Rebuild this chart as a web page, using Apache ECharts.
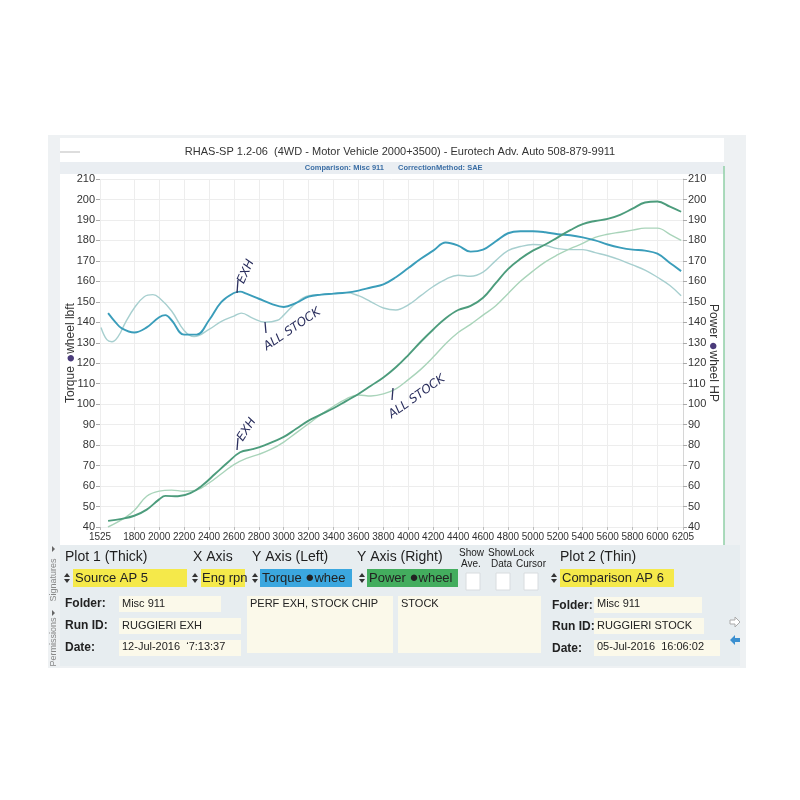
<!DOCTYPE html>
<html><head><meta charset="utf-8">
<script src="https://cdn.jsdelivr.net/npm/echarts@6/dist/echarts.min.js"></script>
<style>html,body{margin:0;padding:0;background:#fff}#c{width:800px;height:800px}</style>
</head><body><div id="c"></div><script>
// ---- data ----
const xTicks = [1525,1800,2000,2200,2400,2600,2800,3000,3200,3400,3600,3800,4000,4200,4400,4600,4800,5000,5200,5400,5600,5800,6000,6205];
const yTicksMin = 40, yTicksMax = 210, yStep = 10;

const rpmTqThick = [1590,1650,1700,1800,1900,2000,2050,2100,2200,2300,2400,2500,2600,2650,2700,2800,2900,3000,3100,3200,3300,3400,3500,3600,3700,3800,3900,4000,4100,4200,4300,4400,4500,4600,4700,4800,4900,5000,5100,5200,5300,5400,5500,5600,5700,5800,5900,6000,6100,6190];
const tqThick = [144.5,140,137,135,137.5,142.5,143.5,141,134,134,141,150,154.3,155,154,151.5,149,147.5,149.5,152.5,153.5,154,154.5,155.5,157,158.5,162,166.5,171,175,179,177.5,174.5,175.5,179.5,183.5,184.5,184.5,184,183,182.5,181.5,180,178,176.5,175.5,175,173.5,169,165];

const rpmTqThin = [1533,1580,1620,1670,1730,1800,1880,1950,2000,2100,2200,2280,2400,2500,2600,2660,2750,2850,2950,3000,3100,3200,3300,3400,3500,3600,3700,3800,3900,4000,4100,4200,4300,4400,4500,4600,4700,4800,4900,5000,5100,5200,5300,5400,5500,5600,5700,5800,5900,6000,6100,6190];
const tqThin = [137.5,131.5,130.5,133,140,147,152.5,153.5,152,145.5,136,133,136.5,140.5,143,144.5,142,140,141,143.5,149.5,153,153.5,154,154.5,153,150,147,146,148.5,153,157.5,161,163,162.5,164.5,170,175,177,178,177.5,176,175.5,175.5,174,172.5,170.5,168,165.5,162,158,153];

const rpmPwThick = [1590,1700,1800,1900,2000,2050,2150,2250,2350,2450,2550,2650,2750,2850,3000,3100,3200,3300,3400,3500,3600,3700,3800,3900,4000,4100,4200,4300,4400,4500,4600,4700,4800,4900,5000,5100,5200,5300,5400,5500,5600,5700,5800,5900,6000,6100,6190];
const pwThick = [43,44,45.5,48.5,53.5,55.2,55,56.5,60.5,66,71.5,76.5,78,80,84,88,92,95,98,101.5,105,109,113,118,124,130.5,136.5,142,146,148,152,159,166,171,175,178,181.5,185,188,189.5,190.5,192.5,195.5,198.5,199,196.5,194];

const rpmPwThin = [1589,1724,1800,1900,2000,2100,2200,2300,2400,2500,2600,2700,2800,2900,3000,3100,3200,3300,3400,3500,3600,3700,3800,3900,4000,4100,4200,4300,4400,4500,4600,4700,4800,4900,5000,5100,5200,5300,5400,5500,5600,5700,5800,5900,6000,6100,6190];
const pwThin = [40,44.5,48,55,57.5,58,57.5,58,61.5,66,70.5,73.5,75.5,78,81.5,86,90.5,95,99,102.5,104.5,104,105,107.5,112,117,123,129.5,135,139,143.5,148,154,160,165,169.5,173,176,178.5,181.5,183,184,185,186,186,183,180];

function pairs(xs, ys){ return xs.map((x,i)=>[x, ys[i]]); }

const chart = echarts.init(document.getElementById('c'), null, {renderer:'canvas'});
const FONT = 'Liberation Sans, Arial, sans-serif';
const INK = '#2b2f5e';
const blobRich = { b: { color: '#4a3b7a', fontSize: 15, fontFamily: FONT } };

function spinner(x, y){
  return [
    {type:'polygon', shape:{points:[[x,y-1],[x+3,y-5],[x+6,y-1]]}, style:{fill:'#333'}, z:5},
    {type:'polygon', shape:{points:[[x,y+1],[x+3,y+5],[x+6,y+1]]}, style:{fill:'#333'}, z:5}
  ];
}
function box(x,y,w,h,fill,stroke){
  return {type:'rect', shape:{x:x,y:y,width:w,height:h}, style:{fill:fill, stroke:stroke||null, lineWidth:1}, z:3};
}
function txt(x,y,t,opt){
  return Object.assign({type:'text', x:x, y:y, style:Object.assign({text:t, fill:'#222', font:'12px '+FONT, textVerticalAlign:'middle'}, (opt&&opt.style)||{}), z:6}, opt&&opt.el||{});
}

const g = [];
// panel backgrounds
g.push({type:'rect', shape:{x:48,y:135,width:698,height:533}, style:{fill:'#eef1f3'}, z:-20});
g.push({type:'rect', shape:{x:60,y:138,width:664,height:407}, style:{fill:'#ffffff'}, z:-19});
g.push({type:'rect', shape:{x:60,y:162,width:664,height:12}, style:{fill:'#eaeef2'}, z:-18});
g.push({type:'line', shape:{x1:724,y1:166,x2:724,y2:545}, style:{stroke:'#8fcfa6', lineWidth:1.5}, z:-17});
g.push({type:'rect', shape:{x:60,y:545,width:680,height:121}, style:{fill:'#e7edf0'}, z:-18});
g.push({type:'line', shape:{x1:60,y1:152,x2:80,y2:152}, style:{stroke:'#bbb', lineWidth:1}, z:-17});
// subtitle
g.push(txt(384,168,'Comparison: Misc 911',{style:{fill:'#3b6ea5', font:'bold 7.5px '+FONT, textAlign:'right'}}));
g.push(txt(398,168,'CorrectionMethod: SAE',{style:{fill:'#3b6ea5', font:'bold 7.5px '+FONT, textAlign:'left'}}));

// handwritten annotations
g.push({type:'line', shape:{x1:238,y1:280,x2:237,y2:293}, style:{stroke:INK, lineWidth:1.3}, z:8});
g.push(txt(241,283,'EXH',{el:{rotation:1.15}, style:{fill:INK, font:'italic 12px DejaVu Sans, sans-serif', textAlign:'left'}}));
g.push({type:'line', shape:{x1:265,y1:322,x2:266,y2:333}, style:{stroke:INK, lineWidth:1.3}, z:8});
g.push(txt(265,348,'ALL STOCK',{el:{rotation:0.6}, style:{fill:INK, font:'italic 12px DejaVu Sans, sans-serif', textAlign:'left'}}));
g.push({type:'line', shape:{x1:238,y1:438,x2:237,y2:450}, style:{stroke:INK, lineWidth:1.3}, z:8});
g.push(txt(240,440,'EXH',{el:{rotation:1.0}, style:{fill:INK, font:'italic 12px DejaVu Sans, sans-serif', textAlign:'left'}}));
g.push({type:'line', shape:{x1:393,y1:388,x2:392,y2:400}, style:{stroke:INK, lineWidth:1.3}, z:8});
g.push(txt(390,416,'ALL STOCK',{el:{rotation:0.62}, style:{fill:INK, font:'italic 12px DejaVu Sans, sans-serif', textAlign:'left'}}));

// form header row
const hdr = {style:{font:'14px '+FONT, fill:'#1e1e1e', textAlign:'left'}};
g.push(txt(65,557,'Plot 1 (Thick)',hdr));
g.push(txt(193,557,'X Axis',hdr));
g.push(txt(252,557,'Y Axis (Left)',hdr));
g.push(txt(357,557,'Y Axis (Right)',hdr));
g.push(txt(560,557,'Plot 2 (Thin)',hdr));
const small = {style:{font:'10px '+FONT, fill:'#222', textAlign:'left'}};
g.push(txt(459,553,'Show',small)); g.push(txt(461,564,'Ave.',small));
g.push(txt(488,553,'ShowLock',small)); g.push(txt(491,564,'Data',small)); g.push(txt(516,564,'Cursor',small));
// selector row
g.push(box(73,569,114,18,'#f5e94a'));
g.push(...spinner(64,578));
g.push(txt(75,578,'Source AP 5',{style:{font:'13px '+FONT, fill:'#222', textAlign:'left'}}));
g.push(box(201,569,44,18,'#f5e94a'));
g.push(...spinner(192,578));
g.push(txt(202,578,'Eng rpn',{style:{font:'13px '+FONT, fill:'#222', textAlign:'left'}}));
g.push(box(260,569,92,18,'#3ba7df'));
g.push(...spinner(252,578));
g.push(txt(262,578,'Torque {b|●}whee',{style:{font:'13px '+FONT, fill:'#222', textAlign:'left', rich:blobRich}}));
g.push(box(367,569,91,18,'#43ad5e'));
g.push(...spinner(359,578));
g.push(txt(369,578,'Power {b|●}wheel',{style:{font:'13px '+FONT, fill:'#222', textAlign:'left', rich:blobRich}}));
g.push(box(466,573,14,17,'#ffffff','#d8dcdf'));
g.push(box(496,573,14,17,'#ffffff','#d8dcdf'));
g.push(box(524,573,14,17,'#ffffff','#d8dcdf'));
g.push(box(560,569,114,18,'#f5e94a'));
g.push(...spinner(551,578));
g.push(txt(562,578,'Comparison AP 6',{style:{font:'13px '+FONT, fill:'#222', textAlign:'left'}}));
// info fields
const lab = {style:{font:'bold 12px '+FONT, fill:'#222', textAlign:'left'}};
const fld = {style:{font:'11px '+FONT, fill:'#222', textAlign:'left'}};
const FIELD = '#fbf9ea';
g.push(txt(65,604,'Folder:',lab)); g.push(box(119,596,102,16,FIELD)); g.push(txt(122,604,'Misc 911',fld));
g.push(txt(65,626,'Run ID:',lab)); g.push(box(119,618,122,16,FIELD)); g.push(txt(122,626,'RUGGIERI EXH',fld));
g.push(txt(65,648,'Date:',lab)); g.push(box(119,640,122,16,FIELD)); g.push(txt(122,647,'12-Jul-2016  \u20187:13:37',fld));
g.push(box(247,596,146,57,FIELD)); g.push(txt(250,604,'PERF EXH, STOCK CHIP',fld));
g.push(box(398,596,143,57,FIELD)); g.push(txt(401,604,'STOCK',fld));
g.push(txt(552,606,'Folder:',lab)); g.push(box(594,597,108,16,FIELD)); g.push(txt(597,604,'Misc 911',fld));
g.push(txt(552,627,'Run ID:',lab)); g.push(box(594,618,110,16,FIELD)); g.push(txt(597,626,'RUGGIERI STOCK',fld));
g.push(txt(552,649,'Date:',lab)); g.push(box(594,640,126,16,FIELD)); g.push(txt(597,647,'05-Jul-2016  16:06:02',fld));
// side bar labels
g.push(txt(54,580,'Signatures',{el:{rotation:Math.PI/2}, style:{font:'9px '+FONT, fill:'#888', textAlign:'center'}}));
g.push(txt(54,642,'Permissions',{el:{rotation:Math.PI/2}, style:{font:'9px '+FONT, fill:'#888', textAlign:'center'}}));
g.push({type:'polygon', shape:{points:[[52,546],[55,549],[52,552]]}, style:{fill:'#666'}, z:5});
g.push({type:'polygon', shape:{points:[[52,610],[55,613],[52,616]]}, style:{fill:'#666'}, z:5});
// right arrows
g.push({type:'polygon', shape:{points:[[730,620],[735,620],[735,617],[740,622],[735,627],[735,624],[730,624]]}, style:{fill:'#fff', stroke:'#aaa', lineWidth:1}, z:5});
g.push({type:'polygon', shape:{points:[[740,638],[735,638],[735,635],[730,640],[735,645],[735,642],[740,642]]}, style:{fill:'#3a8fd0'}, z:5});

const axisLabelStyle = {color:'#333', fontSize:11, fontFamily:FONT};

chart.setOption({
  animation:false,
  backgroundColor:'#ffffff',
  title:{text:'RHAS-SP 1.2-06  (4WD - Motor Vehicle 2000+3500) - Eurotech Adv. Auto 508-879-9911', left:'center', top:141,
         textStyle:{fontSize:11, fontWeight:'normal', color:'#333', fontFamily:FONT}},
  grid:{left:100, right:117, top:179, bottom:273},
  xAxis:{type:'value', min:1525, max:6205,
    axisLine:{show:false},
    axisTick:{show:true, customValues:xTicks, length:3, lineStyle:{color:'#bbb'}},
    axisLabel:{customValues:xTicks, margin:5, showMinLabel:true, showMaxLabel:true, hideOverlap:false,
      color:'#333', fontSize:10, fontFamily:FONT,
      formatter:function(v){return String(v);}},
    splitLine:{show:true, lineStyle:{color:'#ededed', width:1}}
  },
  yAxis:[
    {type:'value', min:yTicksMin, max:yTicksMax, interval:yStep, position:'left',
     name:'Torque {b|●}wheel lbft', nameLocation:'middle', nameGap:22, nameMoveOverlap:false,
     nameTextStyle:{color:'#333', fontSize:12, fontFamily:FONT, rich:blobRich},
     axisLine:{show:false}, axisTick:{show:true, length:4, lineStyle:{color:'#aaa'}},
     axisLabel:Object.assign({margin:5}, axisLabelStyle),
     splitLine:{show:true, lineStyle:{color:'#ededed'}}},
    {type:'value', min:yTicksMin, max:yTicksMax, interval:yStep, position:'right',
     name:'Power {b|●}wheel HP', nameLocation:'middle', nameGap:23, nameRotate:-90, nameMoveOverlap:false,
     nameTextStyle:{color:'#333', fontSize:12, fontFamily:FONT, rich:blobRich},
     axisLine:{show:true, lineStyle:{color:'#d6d6d6'}}, axisTick:{show:true, length:4, lineStyle:{color:'#aaa'}},
     axisLabel:Object.assign({margin:5}, axisLabelStyle),
     splitLine:{show:false}}
  ],
  series:[
    {name:'Torque Stock', type:'line', yAxisIndex:0, smooth:0.4, showSymbol:false, data:pairs(rpmTqThin,tqThin),
     lineStyle:{color:'#a7cfcf', width:1.4}, z:2},
    {name:'Power Stock', type:'line', yAxisIndex:1, smooth:0.4, showSymbol:false, data:pairs(rpmPwThin,pwThin),
     lineStyle:{color:'#a9d4ba', width:1.4}, z:2},
    {name:'Torque EXH', type:'line', yAxisIndex:0, smooth:0.4, showSymbol:false, data:pairs(rpmTqThick,tqThick),
     lineStyle:{color:'#3a9dba', width:1.9}, z:3},
    {name:'Power EXH', type:'line', yAxisIndex:1, smooth:0.4, showSymbol:false, data:pairs(rpmPwThick,pwThick),
     lineStyle:{color:'#4c9c7c', width:1.9}, z:3}
  ],
  graphic:g
});
</script></body></html>
